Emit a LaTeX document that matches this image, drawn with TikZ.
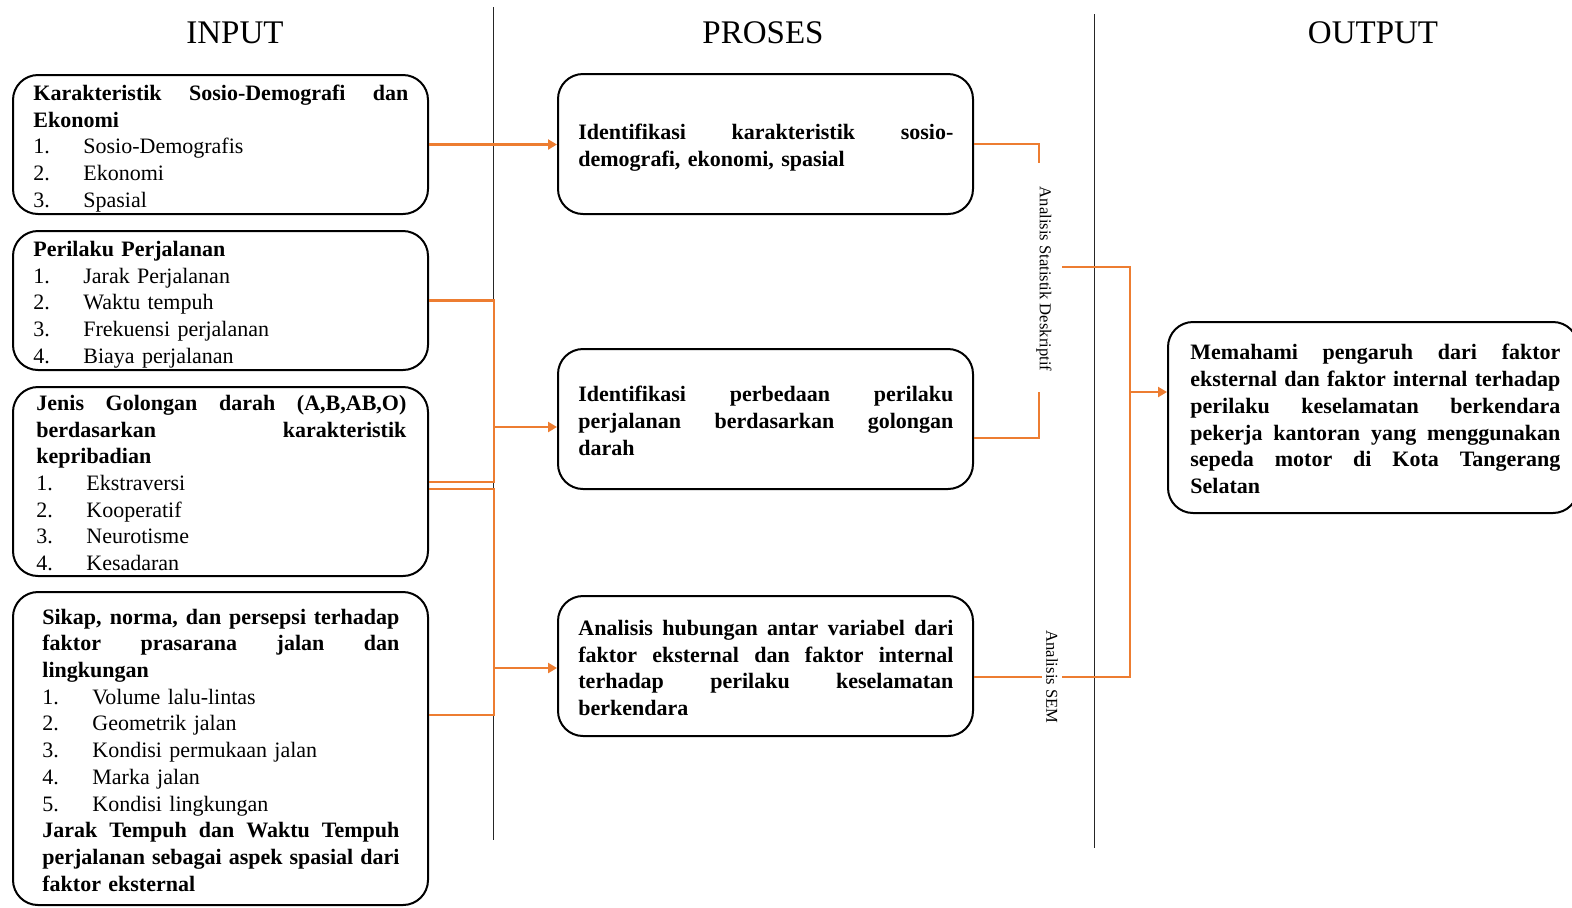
\documentclass[tikz,border=0pt]{standalone}
\usepackage{fontspec}
\setmainfont{Liberation Serif}
\usetikzlibrary{arrows.meta,fit}
\definecolor{org}{HTML}{ED7D31}
\newcommand\jl[1]{{\spaceskip=0pt\relax\xspaceskip=0pt\relax\makebox[\hsize][s]{#1}}}
\newcommand\itm[2]{\makebox[25pt][l]{#1}#2}
\begin{document}
\begin{tikzpicture}[x=0.5pt,y=-0.5pt,
  box/.style={draw=black,line width=1pt,rounded corners=12.5pt,inner sep=0pt},
  txt/.style={anchor=north west,inner sep=0pt,align=left,font=\fontsize{11}{13.35}\selectfont},
  oline/.style={draw=org,line width=1.25pt},
  arr/.style={oline,-{Triangle[length=4.5pt,width=5pt]}},
  ttl/.style={anchor=base,inner sep=0pt,font=\fontsize{16.5}{18}\selectfont},
  lab/.style={rotate=-90,inner sep=0pt,font=\fontsize{8.3}{10}\selectfont},
  vline/.style={draw=black!85,line width=0.5pt}]
\useasboundingbox (0,0) rectangle (1572,907);

% titles
\node[ttl] (ti1) at (235,43) {INPUT};
\node[ttl] (ti2) at (763,43) {PROSES};
\node[ttl] (ti3) at (1373,43) {OUTPUT};

% separators
\draw[vline] (493,7) -- (493,840);
\draw[vline] (1094,14) -- (1094,848);

% boxes
\node[box,fit={(13,75)(428,214)}] (b1) {};
\node[box,fit={(13,231)(428,370)}] (b2) {};
\node[box,fit={(13,387)(428,576)}] (b3) {};
\node[box,fit={(13,592)(428,905)}] (b4) {};
\node[box,fit={(558,74)(973,214)}] (m1) {};
\node[box,fit={(558,349)(973,489)}] (m2) {};
\node[box,fit={(558,596)(973,736)}] (m3) {};
\node[box,fit={(1168,322)(1578,513)}] (out) {};

% texts
\node[txt,text width=187.5pt] (t1) at (33,81.3) {\strut\textbf{\jl{Karakteristik Sosio-Demografi dan}}\\
\textbf{Ekonomi}\\
\itm{1.}{Sosio-Demografis}\\
\itm{2.}{Ekonomi}\\
\itm{3.}{Spasial}};

\node[txt,text width=187.5pt] (t2) at (33,237.3) {\strut\textbf{Perilaku Perjalanan}\\
\itm{1.}{Jarak Perjalanan}\\
\itm{2.}{Waktu tempuh}\\
\itm{3.}{Frekuensi perjalanan}\\
\itm{4.}{Biaya perjalanan}};

\node[txt,text width=185pt] (t3) at (36,391.3) {\strut\textbf{\jl{Jenis Golongan darah (A,B,AB,O)}}\\
\textbf{\jl{berdasarkan karakteristik}}\\
\textbf{kepribadian}\\
\itm{1.}{Ekstraversi}\\
\itm{2.}{Kooperatif}\\
\itm{3.}{Neurotisme}\\
\itm{4.}{Kesadaran}};

\node[txt,text width=178.5pt] (t4) at (42,605) {\strut\textbf{\jl{Sikap, norma, dan persepsi terhadap}}\\
\textbf{\jl{faktor prasarana jalan dan}}\\
\textbf{lingkungan}\\
\itm{1.}{Volume lalu-lintas}\\
\itm{2.}{Geometrik jalan}\\
\itm{3.}{Kondisi permukaan jalan}\\
\itm{4.}{Marka jalan}\\
\itm{5.}{Kondisi lingkungan}\\
\textbf{\jl{Jarak Tempuh dan Waktu Tempuh}}\\
\textbf{\jl{perjalanan sebagai aspek spasial dari}}\\
\textbf{faktor eksternal}};

\node[txt,text width=187.5pt,font=\fontsize{11}{13.35}\selectfont\bfseries] (t5) at (578,120.3) {\strut\jl{Identifikasi karakteristik sosio-}\\
demografi, ekonomi, spasial};

\node[txt,text width=187.5pt,font=\fontsize{11}{13.35}\selectfont\bfseries] (t6) at (578,382.8) {\strut\jl{Identifikasi perbedaan perilaku}\\
\jl{perjalanan berdasarkan golongan}\\
darah};

\node[txt,text width=187.5pt,font=\fontsize{11}{13.35}\selectfont\bfseries] (t7) at (578,616.3) {\strut\jl{Analisis hubungan antar variabel dari}\\
\jl{faktor eksternal dan faktor internal}\\
\jl{terhadap perilaku keselamatan}\\
berkendara};

\node[txt,text width=185pt,font=\fontsize{11}{13.35}\selectfont\bfseries] (t8) at (1190,340.8) {\strut\jl{Memahami pengaruh dari faktor}\\
\jl{eksternal dan faktor internal terhadap}\\
\jl{perilaku keselamatan berkendara}\\
\jl{pekerja kantoran yang menggunakan}\\
\jl{sepeda motor di Kota Tangerang}\\
Selatan};

% rotated labels
\node[lab] (l1) at (1044,279) {Analisis Statistik Deskriptif};
\node[lab] (l2) at (1052,677) {Analisis SEM};

% left connectors
\coordinate (j1) at (494,482);
\coordinate (j2) at (494,489);
\coordinate (j3) at (494,715);
\coordinate (a2) at (494,427);
\coordinate (a3) at (494,668);
\draw[arr] (b1.east) -- (b1.east -| m1.west);
\draw[oline] (b2.east) -| (j1) -- (j1 -| b3.east);
\draw[oline] (j2 -| b3.east) -- (j2) |- (j3 -| b4.east);
\draw[arr] (a2) -- (a2 -| m2.west);
\draw[arr] (a3) -- (a3 -| m3.west);

% right connectors
\coordinate (r1) at (1039,163);
\coordinate (r2) at (1039,392);
\coordinate (r3) at (1039,438);
\coordinate (s1) at (1062,267);
\coordinate (s2) at (1130,267);
\coordinate (s3) at (1130,677);
\coordinate (s4) at (1062,677);
\coordinate (s5) at (1042,677);
\coordinate (o1) at (1130,392);
\draw[oline] (m1.east) -| (r1);
\draw[oline] (r2) -- (r3) -- (r3 -| m2.east);
\draw[oline] (s1) -- (s2) -- (s3) -- (s4);
\draw[oline] (s5 -| m3.east) -- (s5);
\draw[arr] (o1) -- (o1 -| out.west);
\end{tikzpicture}
\end{document}
